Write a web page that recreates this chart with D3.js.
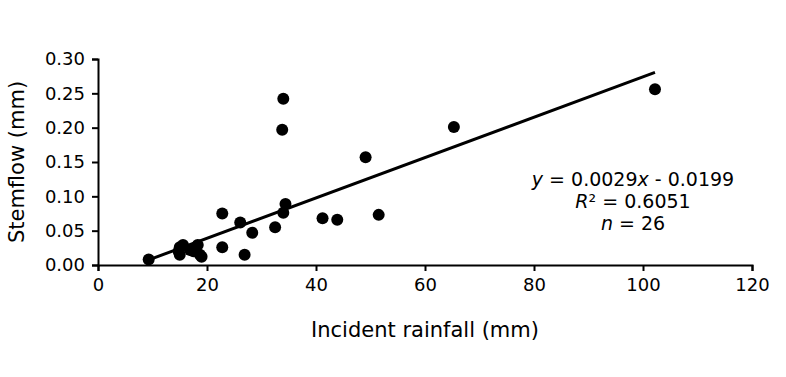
<!DOCTYPE html>
<html>
<head>
<meta charset="utf-8">
<script src="https://cdn.jsdelivr.net/npm/d3@7"></script>
<style>
  body { margin: 0; background: #fff; }
  text { font-family: "DejaVu Sans", Verdana, sans-serif; fill: #000; }
</style>
</head>
<body>
<div id="chart"></div>
<script>
// rainfall (mm) and stemflow (mm) for each event
var rainfall = [9.3, 15.0, 15.6, 15.0, 16.9, 18.3, 18.7, 19.0, 22.8, 22.8,
                26.1, 26.9, 28.3, 32.5, 34.4, 34.0, 34.0, 33.8, 41.2, 43.9,
                49.1, 51.5, 65.3, 102.2, 14.8, 17.5];
var stemflow = [0.008, 0.026, 0.029, 0.015, 0.022, 0.029, 0.015, 0.012, 0.075, 0.026,
                0.062, 0.015, 0.047, 0.055, 0.089, 0.076, 0.242, 0.197, 0.068, 0.066,
                0.157, 0.073, 0.201, 0.256, 0.020, 0.020];
var xTicks = [0, 20, 40, 60, 80, 100, 120];
var yTicks = [0, 0.05, 0.10, 0.15, 0.20, 0.25, 0.30];
// unrounded fit (label shows 0.0029x - 0.0199)
var slope = 0.00294, intercept = -0.0199;

var W = 786, H = 377;
var margin = { top: 59, right: 34, bottom: 112, left: 98 },
    width = W - margin.left - margin.right,
    height = H - margin.top - margin.bottom;

var svg = d3.select("#chart")
  .append("svg")
  .attr("width", W)
  .attr("height", H);

var g = svg.append("g")
  .attr("transform", "translate(" + margin.left + "," + margin.top + ")");

var x = d3.scaleLinear().domain([0, 120]).range([0, width]);
var y = d3.scaleLinear().domain([0, 0.30]).range([height, 0]);

// axes
var xAxis = g.append("g")
  .attr("transform", "translate(0," + height + ")")
  .call(d3.axisBottom(x).tickValues(xTicks).tickSize(6).tickSizeOuter(6).tickPadding(7));
var yAxis = g.append("g")
  .call(d3.axisLeft(y).tickValues(yTicks).tickSize(6).tickSizeOuter(6).tickPadding(7)
    .tickFormat(d3.format(".2f")));

[xAxis, yAxis].forEach(function(a) {
  a.selectAll("path, line").attr("stroke", "#000").attr("stroke-width", 2);
  a.selectAll("text").style("font-size", "18px");
});

// trend line
var xs = d3.extent(rainfall);
g.append("line")
  .attr("x1", x(xs[0])).attr("y1", y(slope * xs[0] + intercept))
  .attr("x2", x(xs[1])).attr("y2", y(slope * xs[1] + intercept))
  .attr("stroke", "#000")
  .attr("stroke-width", 3);

// points
g.selectAll(".dot")
  .data(rainfall)
  .enter()
  .append("circle")
  .attr("class", "dot")
  .attr("cx", function(d) { return x(d); })
  .attr("cy", function(d, i) { return y(stemflow[i]); })
  .attr("r", 6)
  .attr("fill", "#000");

// regression stats
var stats = g.append("text")
  .attr("text-anchor", "middle")
  .style("font-size", "19px");
var cx = 535;
stats.append("tspan").attr("x", cx).attr("y", 127)
  .html('<tspan font-style="italic">y</tspan> = 0.0029<tspan font-style="italic">x</tspan> - 0.0199');
stats.append("tspan").attr("x", cx).attr("y", 149)
  .html('<tspan font-style="italic">R</tspan>² = 0.6051');
stats.append("tspan").attr("x", cx).attr("y", 171)
  .html('<tspan font-style="italic">n</tspan> = 26');

// axis titles
svg.append("text")
  .attr("x", margin.left + width / 2)
  .attr("y", 337)
  .attr("text-anchor", "middle")
  .style("font-size", "21px")
  .text("Incident rainfall (mm)");

svg.append("text")
  .attr("transform", "translate(24," + (margin.top + height / 2) + ") rotate(-90)")
  .attr("text-anchor", "middle")
  .style("font-size", "21px")
  .text("Stemflow (mm)");
</script>
</body>
</html>
